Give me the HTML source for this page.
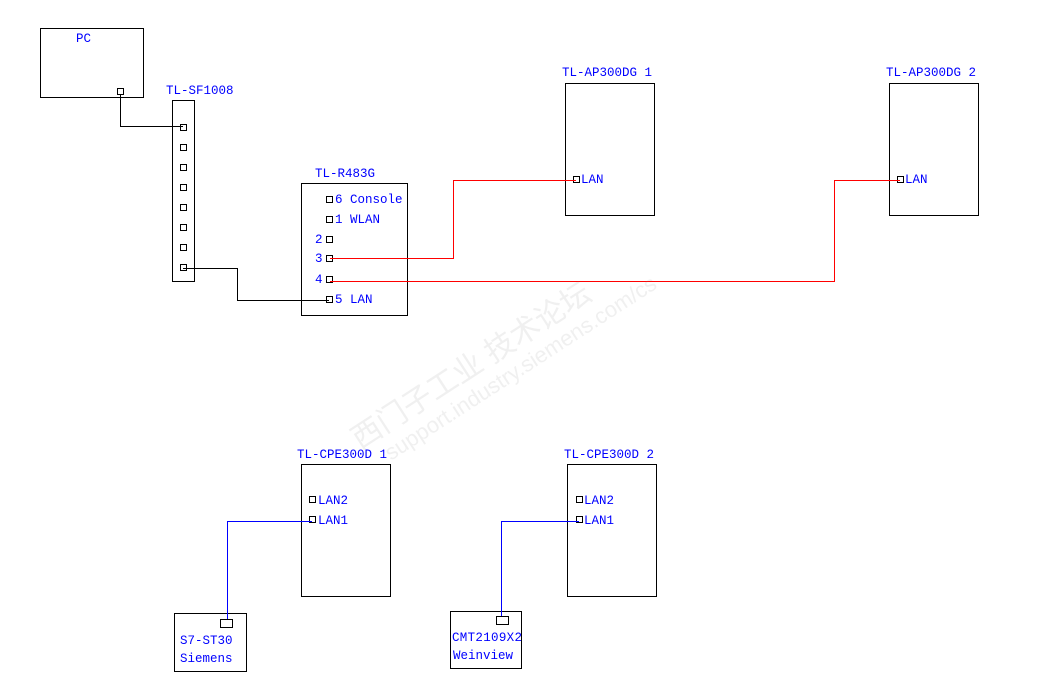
<!DOCTYPE html>
<html><head><meta charset="utf-8"><style>
html,body{margin:0;padding:0;background:#fff;}
svg{display:block;}
text{font-family:"Liberation Mono","Noto Sans CJK SC",monospace;font-size:12.5px;fill:#0000ff;}
</style></head><body>
<svg width="1041" height="690" viewBox="0 0 1041 690" xmlns="http://www.w3.org/2000/svg">
<g fill="none" stroke="#000" stroke-width="1">
<rect x="40.5" y="28.5" width="103" height="69"/>
<rect x="117.5" y="88.5" width="6" height="6"/>
<rect x="172.5" y="100.5" width="22" height="181"/>
<rect x="180.5" y="124.5" width="6" height="6"/>
<rect x="180.5" y="144.5" width="6" height="6"/>
<rect x="180.5" y="164.5" width="6" height="6"/>
<rect x="180.5" y="184.5" width="6" height="6"/>
<rect x="180.5" y="204.5" width="6" height="6"/>
<rect x="180.5" y="224.5" width="6" height="6"/>
<rect x="180.5" y="244.5" width="6" height="6"/>
<rect x="180.5" y="264.5" width="6" height="6"/>
<rect x="301.5" y="183.5" width="106" height="132"/>
<rect x="326.5" y="196.5" width="6" height="6"/>
<rect x="326.5" y="216.5" width="6" height="6"/>
<rect x="326.5" y="236.5" width="6" height="6"/>
<rect x="326.5" y="255.5" width="6" height="6"/>
<rect x="326.5" y="276.5" width="6" height="6"/>
<rect x="326.5" y="296.5" width="6" height="6"/>
<rect x="565.5" y="83.5" width="89" height="132"/>
<rect x="573.5" y="176.5" width="6" height="6"/>
<rect x="889.5" y="83.5" width="89" height="132"/>
<rect x="897.5" y="176.5" width="6" height="6"/>
<rect x="301.5" y="464.5" width="89" height="132"/>
<rect x="309.5" y="496.5" width="6" height="6"/>
<rect x="309.5" y="516.5" width="6" height="6"/>
<rect x="567.5" y="464.5" width="89" height="132"/>
<rect x="576.5" y="496.5" width="6" height="6"/>
<rect x="576.5" y="516.5" width="6" height="6"/>
<rect x="174.5" y="613.5" width="72" height="58"/>
<rect x="220.5" y="619.5" width="12" height="8"/>
<rect x="450.5" y="611.5" width="71" height="57"/>
<rect x="496.5" y="616.5" width="12" height="8"/>
<polyline points="120.5,94 120.5,126.5 183,126.5"/>
<polyline points="183,268.5 237.5,268.5 237.5,300.5 329,300.5"/>
</g>
<g fill="none" stroke="#ff0000" stroke-width="1">
<polyline points="330,258.5 453.5,258.5 453.5,180.5 576,180.5"/>
<polyline points="330,281.5 834.5,281.5 834.5,180.5 900,180.5"/>
</g>
<g fill="none" stroke="#0000ff" stroke-width="1">
<polyline points="312,521.5 227.5,521.5 227.5,619"/>
<polyline points="579,521.5 501.5,521.5 501.5,616"/>
</g>
<text x="76" y="42">PC</text>
<text x="166" y="94">TL-SF1008</text>
<text x="315" y="177">TL-R483G</text>
<text x="335" y="203">6 Console</text>
<text x="335" y="223">1 WLAN</text>
<text x="315" y="243">2</text>
<text x="315" y="262">3</text>
<text x="315" y="283">4</text>
<text x="335" y="303">5 LAN</text>
<text x="562" y="76">TL-AP300DG 1</text>
<text x="581" y="183">LAN</text>
<text x="886" y="76">TL-AP300DG 2</text>
<text x="905" y="183">LAN</text>
<text x="297" y="458">TL-CPE300D 1</text>
<text x="318" y="504">LAN2</text>
<text x="318" y="524">LAN1</text>
<text x="564" y="458">TL-CPE300D 2</text>
<text x="584" y="504">LAN2</text>
<text x="584" y="524">LAN1</text>
<text x="180" y="644">S7-ST30</text>
<text x="180" y="662">Siemens</text>
<text x="452" y="641" textLength="70">CMT2109X2</text>
<text x="453" y="659">Weinview</text>
<g transform="translate(360,450) rotate(-33)" opacity="0.12">
<text x="0" y="0" style="font-family:'Liberation Sans','Noto Sans CJK SC',sans-serif;font-size:30px;fill:#888">西门子工业 技术论坛</text>
<text x="20" y="26" style="font-family:'Liberation Sans',sans-serif;font-size:22px;fill:#888">support.industry.siemens.com/cs</text>
</g>
</svg>
</body></html>
